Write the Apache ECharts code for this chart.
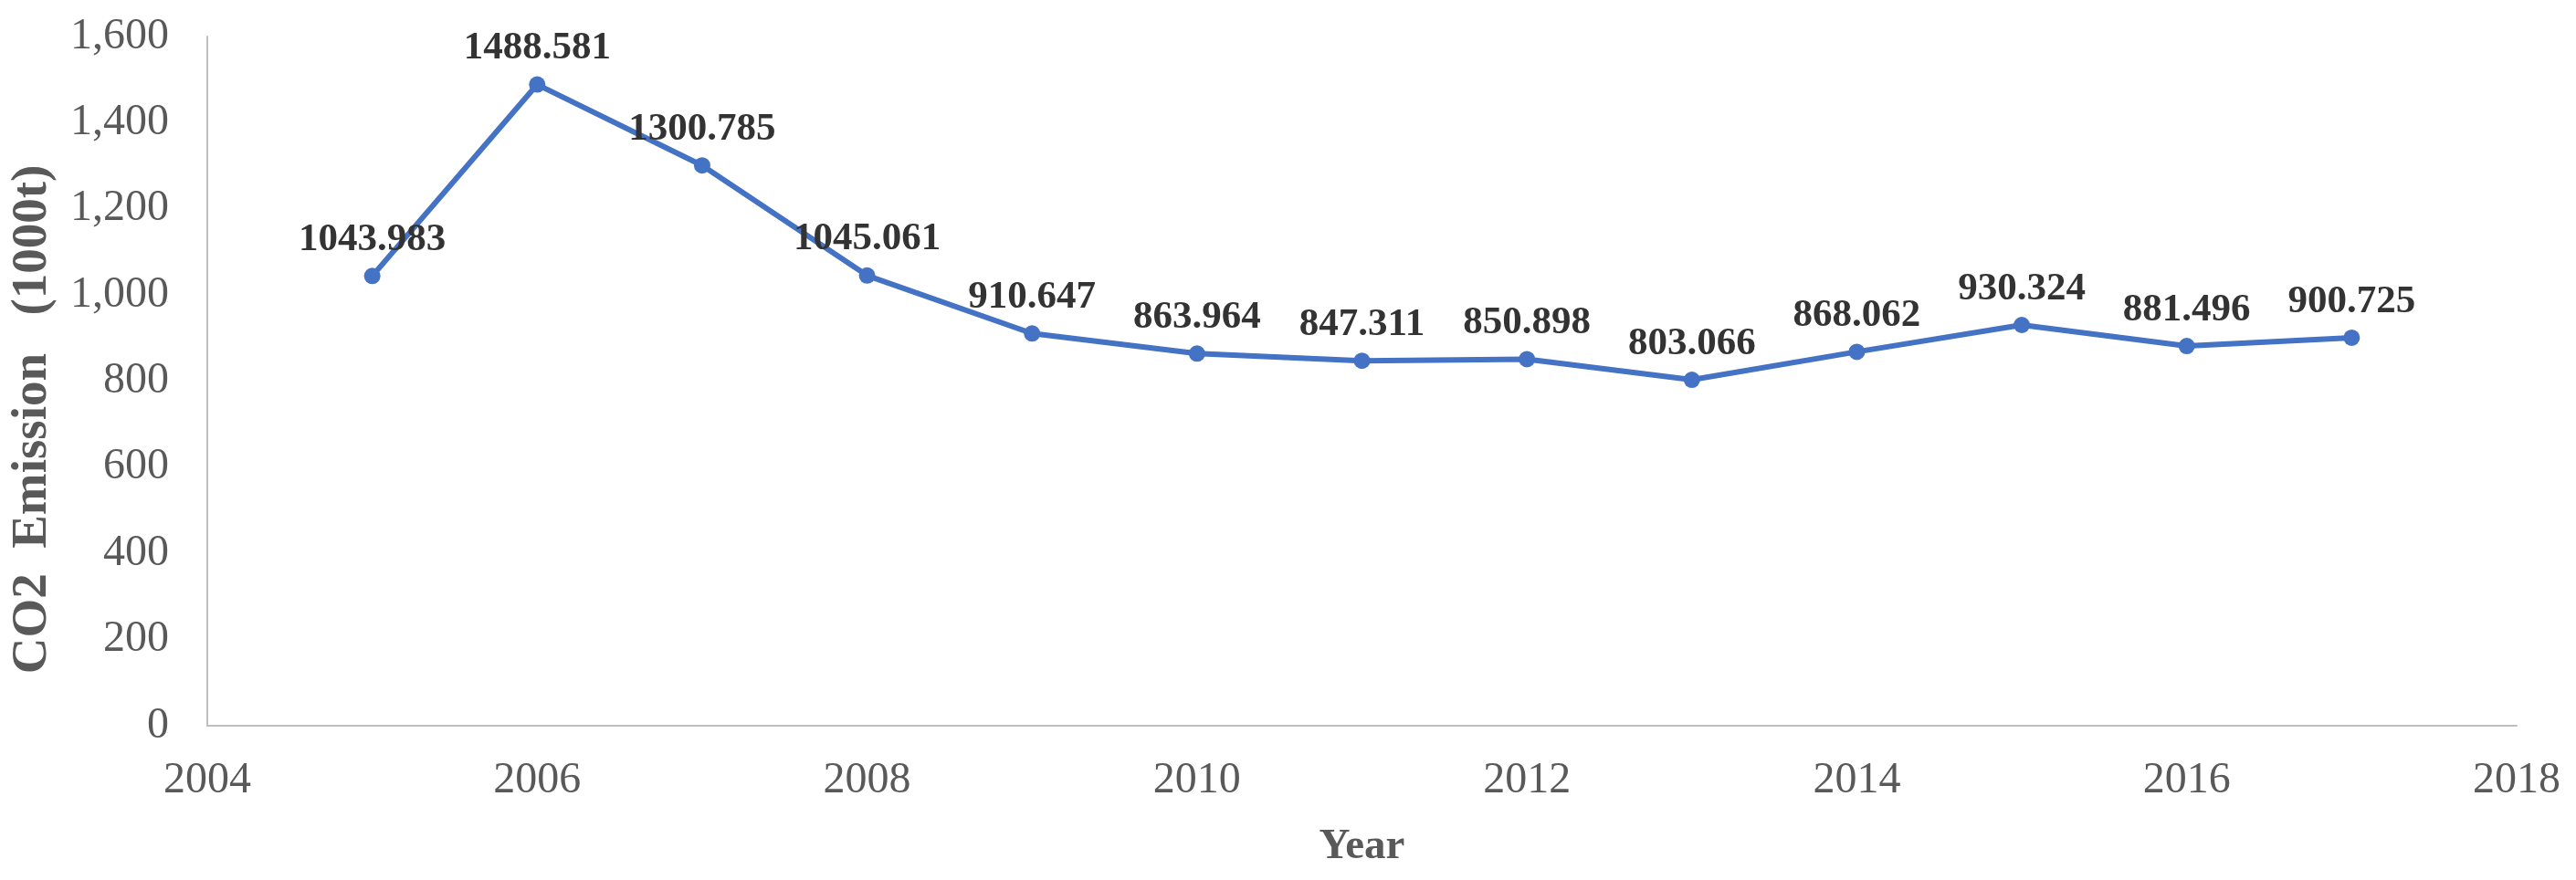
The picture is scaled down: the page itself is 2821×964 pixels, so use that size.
<!DOCTYPE html>
<html>
<head>
<meta charset="utf-8">
<script src="https://cdn.jsdelivr.net/npm/echarts@6/dist/echarts.min.js"></script>
<style>
html,body{margin:0;padding:0;background:#fff;}
#chart{width:2821px;height:964px;}
</style>
</head>
<body>
<div id="chart"></div>
<script>
const years = [2005, 2006, 2007, 2008, 2009, 2010, 2011, 2012, 2013, 2014, 2015, 2016, 2017];
const emissions = [1043.983, 1488.581, 1300.785, 1045.061, 910.647, 863.964, 847.311, 850.898, 803.066, 868.062, 930.324, 881.496, 900.725];
const labelText = ['1043.983', '1488.581', '1300.785', '1045.061', '910.647', '863.964', '847.311', '850.898', '803.066', '868.062', '930.324', '881.496', '900.725'];
const xTitle = 'Year';
const yTitle = 'CO2  Emission   (1000t)';

const chart = echarts.init(document.getElementById('chart'));
const seriesData = years.map((y, i) => [y, emissions[i]]);
const font = '"Liberation Serif", "Times New Roman", serif';

chart.setOption({
  backgroundColor: '#ffffff',
  animation: false,
  grid: { left: 227, right: 65, top: 40, bottom: 169 },
  xAxis: {
    type: 'value',
    min: 2004, max: 2018, interval: 2,
    name: xTitle,
    nameLocation: 'middle',
    nameGap: 109,
    nameTextStyle: { fontFamily: font, fontSize: 47, fontWeight: 'bold', color: '#595959' },
    axisLine: { show: true, lineStyle: { color: '#BFBFBF', width: 2 } },
    axisTick: { show: false },
    splitLine: { show: false },
    axisLabel: {
      fontFamily: font, fontSize: 48, color: '#595959', margin: 36,
      formatter: v => String(v)
    }
  },
  yAxis: {
    type: 'value',
    min: 0, max: 1600, interval: 200,
    name: yTitle,
    nameLocation: 'middle',
    nameGap: 164,
    nameRotate: 90,
    nameTextStyle: { fontFamily: font, fontSize: 55, fontWeight: 'bold', color: '#595959', padding: [0, 84, 0, 0] },
    axisLine: { show: true, lineStyle: { color: '#BFBFBF', width: 2 } },
    axisTick: { show: false },
    splitLine: { show: false },
    axisLabel: {
      fontFamily: font, fontSize: 48, color: '#595959', margin: 42,
      formatter: v => v.toLocaleString('en-US')
    }
  },
  series: [{
    type: 'line',
    data: seriesData,
    symbol: 'circle',
    symbolSize: 18,
    lineStyle: { color: '#4472C4', width: 6 },
    itemStyle: { color: '#4472C4' },
    label: {
      show: true,
      position: 'top',
      distance: 9,
      fontFamily: font,
      fontSize: 43,
      fontWeight: 'bold',
      color: '#333333',
      formatter: p => labelText[p.dataIndex]
    }
  }]
});
</script>
</body>
</html>
